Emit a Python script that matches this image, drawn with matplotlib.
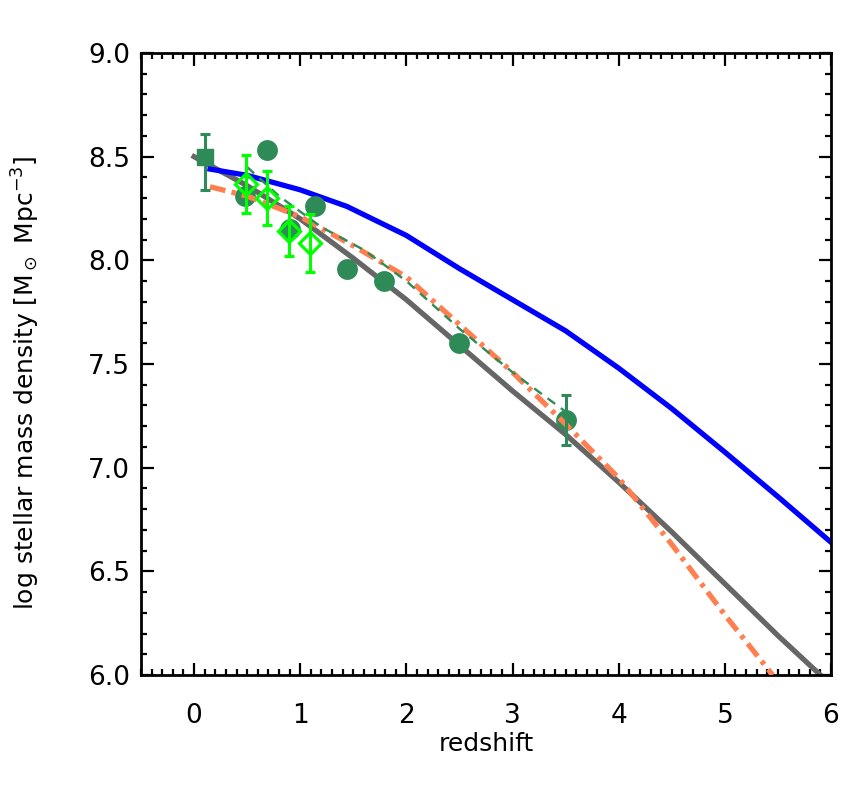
import matplotlib
matplotlib.use('Agg')
from matplotlib import pyplot as plt
from matplotlib.ticker import MultipleLocator, FormatStrFormatter

# model curves
z_gray = [0.0, 0.5, 1.0, 1.5, 2.0, 2.5, 3.0, 3.5, 4.0, 4.5, 5.0, 5.5, 5.9]
rho_gray = [8.50, 8.36, 8.20, 8.01, 7.81, 7.59, 7.37, 7.16, 6.93, 6.69, 6.44, 6.19, 6.0]

z_blue = [0.15, 0.5, 1.0, 1.44, 2.0, 2.5, 3.0, 3.5, 4.0, 4.5, 5.0, 5.5, 6.0]
rho_blue = [8.44, 8.41, 8.34, 8.26, 8.12, 7.96, 7.81, 7.66, 7.48, 7.285, 7.075, 6.86, 6.64]

z_coral = [0.15, 0.5, 1.0, 1.5, 2.0, 2.5, 3.0, 3.5, 4.0, 4.5, 5.0, 5.45]
rho_coral = [8.355, 8.31, 8.21, 8.07, 7.92, 7.69, 7.46, 7.21, 6.95, 6.63, 6.29, 6.0]

z_dash = [0.5, 0.8, 1.2, 1.6, 2.0, 2.5, 3.0, 3.5]
rho_dash = [8.45, 8.31, 8.16, 8.05, 7.90, 7.67, 7.46, 7.27]

# observations
z_circ = [0.48, 0.69, 0.9, 1.14, 1.44, 1.79, 2.5, 3.5]
rho_circ = [8.31, 8.53, 8.15, 8.26, 7.96, 7.90, 7.60, 7.23]

z_sq = [0.1]
rho_sq = [8.50]
err_sq_lo = [0.16]
err_sq_hi = [0.11]

z_err = [3.5]
rho_err = [7.23]
err_pt = [0.12]

z_dia = [0.49, 0.69, 0.89, 1.09]
rho_dia = [8.37, 8.30, 8.14, 8.085]
err_dia = [0.14, 0.13, 0.12, 0.14]

if __name__ == '__main__':
    plt.rcParams['font.family'] = ['DejaVu Sans']
    fig = plt.figure(figsize=(8.66, 7.86), dpi=100)
    ax = fig.add_axes([141 / 866, 1 - 675 / 786, 690 / 866, 622 / 786])

    ax.plot(z_gray, rho_gray, color='#666666', lw=3.8, zorder=2)
    ax.plot(z_blue, rho_blue, color='#0000ff', lw=3.8, zorder=2)
    ax.plot(z_circ, rho_circ, 'o', color='#2e8b57', ms=15, mec='none', zorder=3)
    ax.plot(z_coral, rho_coral, color='#ff7f50', lw=3.8, ls=(0, (3, 1.2, 0.8, 1.2)), zorder=4)
    ax.plot(z_dash, rho_dash, color='#2e8b57', lw=1.7, ls=(0, (4, 3)), zorder=4)

    ax.errorbar(z_sq, rho_sq, yerr=[err_sq_lo, err_sq_hi], fmt='s', color='#2e8b57',
                ms=11.5, elinewidth=2.2, capsize=3.5, capthick=2.2, zorder=5)
    ax.errorbar(z_err, rho_err, yerr=err_pt, fmt='none', ecolor='#2e8b57',
                elinewidth=2.2, capsize=3.5, capthick=2.2, zorder=5)
    ax.errorbar(z_dia, rho_dia, yerr=err_dia, fmt='D', color='#00ff00', mfc='none',
                mec='#00ff00', mew=2.3, ms=11, elinewidth=2.2, capsize=3.5, capthick=2.2, zorder=6)

    ax.set_xlim(-0.5, 6)
    ax.set_ylim(6, 9)
    ax.xaxis.set_major_locator(MultipleLocator(1))
    ax.xaxis.set_minor_locator(MultipleLocator(0.1))
    ax.yaxis.set_major_locator(MultipleLocator(0.5))
    ax.yaxis.set_minor_locator(MultipleLocator(0.1))
    ax.yaxis.set_major_formatter(FormatStrFormatter('%.1f'))
    ax.tick_params(which='both', direction='in', top=True, right=True, width=1.6, labelsize=19)
    ax.tick_params(which='major', length=9)
    ax.tick_params(which='minor', length=4.5)
    ax.tick_params(axis='x', pad=20)
    ax.tick_params(axis='y', pad=8)
    for s in ax.spines.values():
        s.set_linewidth(2)

    ax.set_xlabel('redshift', fontsize=18, labelpad=2)
    ax.set_ylabel(r'log stellar mass density [M$_\odot$ Mpc$^{-3}$]', fontsize=18)
    ax.yaxis.set_label_coords(-0.143, 0.47)

    plt.savefig('out.png', dpi=100)
